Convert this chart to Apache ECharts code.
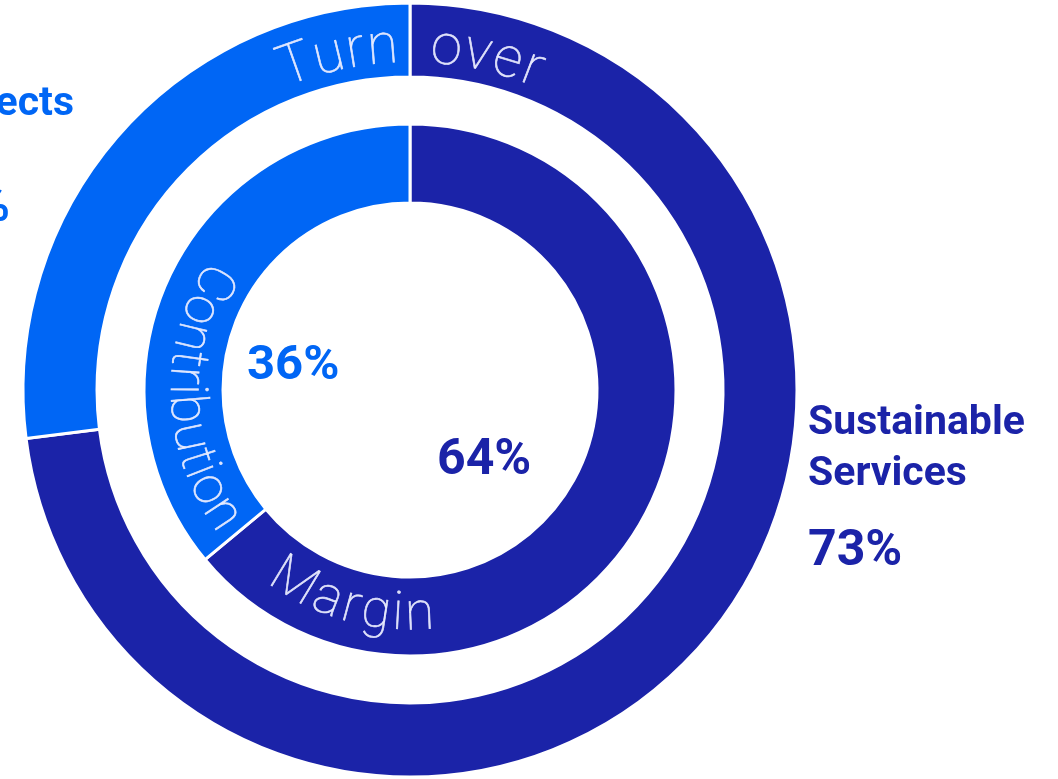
<!DOCTYPE html>
<html>
<head>
<meta charset="utf-8">
<script src="https://cdn.jsdelivr.net/npm/echarts@6/dist/echarts.min.js"></script>
<style>
  html, body { margin: 0; padding: 0; background: #ffffff; }
  #chart { width: 1058px; height: 779px; }
</style>
</head>
<body>
<div id="chart"></div>
<script>
// Two rings: outer = turnover split, inner = contribution margin split
const segmentNames = ['Sustainable Services', 'Sustainable Projects'];
const turnoverShares = [73, 27];
const marginShares = [64, 36];
// Words written along the rings
const turnoverWords = ['Turn', 'over'];
const marginWords = ['Contribution', 'Margin'];

const DARK = '#1b23a8';
const LIGHT = '#0066f5';
const RING_TEXT = 'rgba(236,238,255,0.92)';
const CX = 410, CY = 390;
const BOLD = 'Roboto, "Noto Sans", sans-serif';
const THIN_FAMILY = 'Roboto';
const THIN_WEIGHT = 100;

const chart = echarts.init(document.getElementById('chart'), null, { renderer: 'canvas' });

// Lay a word out along a circle, one rotated glyph per character.
// dir = +1 reads clockwise (tops outward), dir = -1 reads counter-clockwise (tops inward).
const measureCtx = document.createElement('canvas').getContext('2d');
function arcWord(text, size, radius, anchorDeg, mode, dir, spacing) {
  const font = THIN_WEIGHT + ' ' + size + 'px ' + THIN_FAMILY;
  measureCtx.font = font;
  const chars = Array.from(text);
  const widths = chars.map(ch => measureCtx.measureText(ch).width + spacing);
  const total = widths.reduce((a, b) => a + b, 0) - spacing;
  const spanDeg = total / radius * 180 / Math.PI;
  let startDeg;
  if (mode === 'start') startDeg = anchorDeg;
  else if (mode === 'end') startDeg = anchorDeg - dir * spanDeg;
  else startDeg = anchorDeg - dir * spanDeg / 2;
  const out = [];
  let acc = 0;
  chars.forEach((ch, i) => {
    const w = widths[i] - spacing;
    const mid = acc + w / 2;
    acc += widths[i];
    const th = (startDeg + dir * mid / radius * 180 / Math.PI) * Math.PI / 180;
    out.push({
      type: 'text',
      x: CX + radius * Math.sin(th),
      y: CY - radius * Math.cos(th),
      rotation: dir > 0 ? -th : -(th + Math.PI),
      silent: true,
      z: 50,
      style: {
        text: ch,
        font: font,
        fill: RING_TEXT,
        stroke: RING_TEXT,
        lineWidth: 0.6,
        align: 'center',
        verticalAlign: 'middle'
      }
    });
  });
  return out;
}

function label(text, x, y, size, color, align, lineHeight) {
  return {
    type: 'text', x: x, y: y, silent: true, z: 50,
    style: {
      text: text,
      fontFamily: BOLD,
      fontWeight: 700,
      fontSize: size,
      lineHeight: lineHeight || size,
      fill: color,
      align: align || 'left',
      verticalAlign: 'middle'
    }
  };
}

const ringText = []
  .concat(arcWord(turnoverWords[0], 56, 342, -2.0, 'end', 1, 2.5))
  .concat(arcWord(turnoverWords[1], 56, 342, 3.5, 'start', 1, 3))
  .concat(arcWord(marginWords[0], 52, 226, 233, 'end', -1, 0))
  .concat(arcWord(marginWords[1], 53, 226, 217, 'start', -1, 2));

const labels = [
  label('Sustainable\nServices', 808, 449, 41, DARK, 'left', 51),
  label(turnoverShares[0] + '%', 808, 552, 50, DARK, 'left'),
  label('Projects', 74, 105, 41, LIGHT, 'right'),
  label(turnoverShares[1] + '%', 10, 208, 50, LIGHT, 'right'),
  label(marginShares[1] + '%', 247, 367, 49, LIGHT, 'left'),
  label(marginShares[0] + '%', 437, 461, 50, DARK, 'left')
];

function ringData(values) {
  return values.map((v, i) => ({
    name: segmentNames[i],
    value: v,
    itemStyle: { color: i === 0 ? DARK : LIGHT }
  }));
}

const ringCommon = {
  type: 'pie',
  center: [CX, CY],
  startAngle: 90,
  clockwise: true,
  silent: true,
  label: { show: false },
  labelLine: { show: false },
  emphasis: { disabled: true },
  itemStyle: { borderColor: '#ffffff', borderWidth: 3 }
};

chart.setOption({
  animation: false,
  backgroundColor: '#ffffff',
  series: [
    Object.assign({}, ringCommon, { name: 'Turnover', radius: [313, 387], data: ringData(turnoverShares) }),
    Object.assign({}, ringCommon, { name: 'Contribution Margin', radius: [187, 266], data: ringData(marginShares) })
  ],
  graphic: { elements: ringText.concat(labels) }
});
</script>
</body>
</html>
